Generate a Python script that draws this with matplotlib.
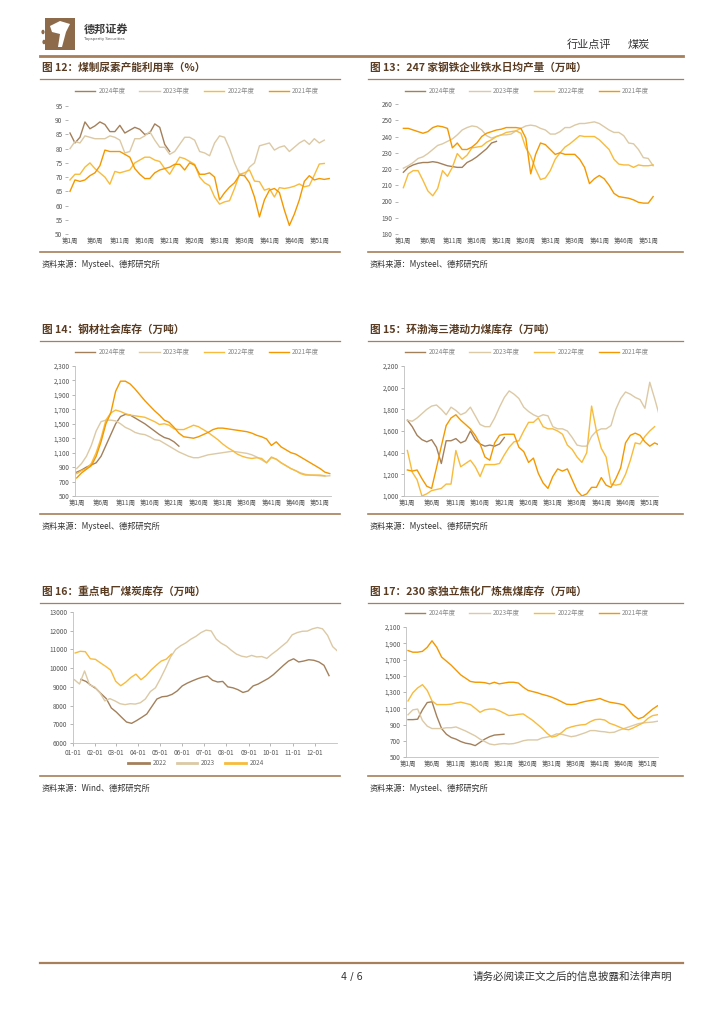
import numpy as np
import pandas as pd
import matplotlib
matplotlib.use('Agg')
import matplotlib.pyplot as plt
from matplotlib.patches import Rectangle, Circle, Polygon
from matplotlib.lines import Line2D

plt.rcParams['font.family'] = ['Noto Sans CJK SC', 'DejaVu Sans']

W, H = 724, 1024
def fx(x): return x / W
def fy(y): return 1 - y / H

# ---- data ----
years4 = ['2024年度', '2023年度', '2022年度', '2021年度']
week_ticks = [1, 6, 11, 16, 21, 26, 31, 36, 41, 46, 51]
week_labels = ['第%d周' % w for w in week_ticks]

# 图12 煤制尿素产能利用率
urea_2024 = [85.5, 82, 84, 89.4, 87, 88, 89.4, 88.5, 86, 86, 88.2, 85.5, 86.5, 87.5, 86.8, 85, 85.5, 88.7, 87.5, 81.5, 79]
urea_2023 = [80, 82.5, 82, 84.5, 84, 83.5, 83.5, 83.5, 84.5, 84, 83, 78.5, 79, 83.5, 83.5, 84.5, 86, 83, 80.5, 80.5,
             78, 79, 81.5, 84, 84, 83, 79, 78.5, 77.5, 82, 84.5, 84, 80, 75, 71, 70.5, 73.5, 75, 81, 81.5,
             82, 79.5, 80.5, 81, 79, 80.5, 82, 83, 81.5, 83.5, 82, 83]
urea_2022 = [69, 71, 71, 73.5, 75, 73, 71.5, 70, 67.5, 72, 71.5, 72, 72.5, 75, 76, 77, 77, 76, 75.5, 73,
             71, 74, 77, 76.5, 75.5, 74.5, 70, 68, 67, 63, 60.5, 61.3, 61.7, 66, 71, 71.5, 72.5, 68.6, 68.4, 65.4,
             66, 63, 66.3, 66, 66.3, 66.8, 67.6, 66.6, 67, 70.7, 74.6, 74.8]
urea_2021 = [65, 69, 68.5, 69, 70.5, 71.5, 74, 79.5, 79, 79, 79, 78, 77, 73, 71, 69.5, 69.5, 71.5, 72.5, 73,
             73.5, 74.5, 74.5, 72.5, 75, 74.2, 71, 71, 71.5, 70, 62, 64.5, 66.5, 68, 70.7, 70.5, 68, 63, 56, 62,
             65.4, 66, 64.6, 58.4, 53, 57, 62, 68.5, 70.5, 69, 69.5, 69.2, 69.5]

# 图13 247家钢铁企业铁水日均产量
iron_2024 = [218, 221, 222.5, 223.5, 224, 224, 224.5, 224, 223, 222, 221.5, 221, 221, 224, 225.5, 227.5, 230, 232.5, 236, 237]
iron_2023 = [220.5, 222, 224, 226.5, 227.5, 229.5, 232, 234.5, 235.5, 237, 238.5, 241, 244, 245.5, 246.5, 246, 244, 240.5, 239, 240,
             241, 241, 241.5, 243.5, 245, 246.5, 247, 246.5, 245, 244, 241.5, 241.5, 243, 245.5, 245.5, 247, 248, 248, 248.5, 249,
             248, 246, 244, 242.5, 242.5, 240.5, 236, 235.5, 232, 227, 226.5, 222]
iron_2022 = [208.5, 217, 219, 219, 213, 206.5, 203.5, 208, 219, 215.5, 221, 229.5, 226, 228.5, 233, 233.5, 234, 236.5, 238, 240,
             241, 242.5, 243, 243.5, 242, 233, 228, 220, 213.5, 214.5, 219, 226, 230, 233.5, 235.5, 238, 240.5, 240, 240, 240,
             238, 235, 232, 226, 223, 222.5, 222.5, 221, 222.5, 222, 222, 222.5]
iron_2021 = [245, 245, 244, 243, 242, 243, 245.5, 246.5, 246, 245, 233, 236, 232, 232, 233.5, 236, 240, 242, 243, 244,
             244.5, 245.5, 245.5, 245.5, 245, 239, 217, 229, 236, 235, 232, 229, 230, 229, 229, 229, 226, 221, 211, 214,
             216, 214, 210, 205, 203, 202.5, 202, 201, 199.5, 199, 199, 203]

# 图14 钢材社会库存
steel_2024 = [830, 860, 900, 930, 960, 1050, 1200, 1350, 1500, 1600, 1630, 1620, 1580, 1540, 1500, 1450, 1400, 1350, 1310, 1290, 1250, 1190]
steel_2023 = [880, 950, 1050, 1200, 1400, 1530, 1550, 1550, 1540, 1500, 1450, 1420, 1380, 1360, 1350, 1320, 1280, 1270, 1230, 1190,
              1150, 1110, 1080, 1050, 1030, 1030, 1050, 1070, 1080, 1090, 1100, 1110, 1120, 1110, 1100, 1090, 1070, 1040, 1000, 960,
              1030, 1010, 960, 920, 880, 850, 820, 800, 790, 785, 780, 775, 780]
steel_2022 = [810, 850, 880, 950, 1100, 1300, 1550, 1650, 1690, 1670, 1640, 1620, 1610, 1600, 1590, 1560, 1530, 1490, 1500, 1480,
              1430, 1420, 1420, 1450, 1480, 1460, 1420, 1380, 1330, 1280, 1220, 1170, 1130, 1080, 1050, 1030, 1020, 1030, 1020, 960,
              1040, 1010, 960, 920, 880, 850, 810, 790, 790, 790, 790, 780]
steel_2021 = [750, 820, 870, 920, 1050, 1250, 1500, 1650, 1950, 2090, 2090, 2050, 1980, 1900, 1820, 1750, 1680, 1620, 1550, 1520,
              1450, 1370, 1320, 1310, 1300, 1320, 1350, 1380, 1420, 1440, 1440, 1430, 1420, 1410, 1400, 1390, 1370, 1340, 1320, 1290,
              1200, 1250, 1180, 1140, 1100, 1080, 1040, 1000, 960, 920, 880, 830, 810]

# 图15 环渤海三港动力煤库存
port_2024 = [1700, 1640, 1560, 1520, 1500, 1520, 1450, 1300, 1510, 1510, 1530, 1490, 1510, 1600, 1520, 1480, 1460, 1470, 1460, 1480, 1540]
port_2023 = [1700, 1690, 1720, 1760, 1800, 1830, 1840, 1800, 1750, 1820, 1790, 1750, 1770, 1820, 1740, 1660, 1640, 1640, 1720, 1820,
             1910, 1970, 1940, 1900, 1820, 1780, 1750, 1730, 1750, 1740, 1640, 1620, 1620, 1600, 1540, 1470, 1460, 1460, 1550, 1600,
             1620, 1620, 1650, 1800, 1900, 1960, 1940, 1910, 1890, 1810, 2050, 1900, 1740]
port_2022 = [1420, 1220, 1150, 1000, 1020, 1050, 1060, 1070, 1110, 1110, 1420, 1270, 1300, 1330, 1270, 1180, 1290, 1290, 1290, 1300,
             1380, 1450, 1500, 1510, 1600, 1680, 1680, 1720, 1640, 1620, 1620, 1600, 1570, 1470, 1430, 1360, 1310, 1400, 1830, 1600,
             1440, 1360, 1110, 1100, 1110, 1200, 1330, 1490, 1480, 1550, 1600, 1640]
port_2021 = [1240, 1230, 1240, 1160, 1090, 1070, 1260, 1460, 1650, 1720, 1750, 1700, 1660, 1620, 1560, 1480, 1360, 1330, 1490, 1560,
             1570, 1570, 1570, 1450, 1410, 1310, 1350, 1210, 1120, 1070, 1180, 1250, 1230, 1250, 1150, 1050, 1000, 1020, 1080, 1080,
             1170, 1100, 1080, 1160, 1260, 1490, 1560, 1580, 1560, 1500, 1460, 1490, 1470]

# 图16 重点电厂煤炭库存 (weekly, from start date)
plant_years = ['2022', '2023', '2024']
plant_start = ['2022-01-12', '2023-01-03', '2024-01-04']
plant_2022 = [9400, 9290, 9080, 8900, 8630, 8370, 7870, 7650, 7380, 7120, 7050, 7200, 7370, 7550, 7950, 8350, 8470, 8500, 8600, 8780,
              9050, 9200, 9320, 9430, 9520, 9580, 9350, 9260, 9290, 9000, 8950, 8850, 8700, 8780, 9050, 9150, 9300, 9450, 9650, 9900,
              10150, 10380, 10500, 10330, 10380, 10450, 10420, 10330, 10150, 9600]
plant_2023 = [9380, 9150, 9850, 9100, 9000, 8700, 8250, 8370, 8250, 8100, 8050, 8100, 8080, 8150, 8350, 8750, 8950, 9450, 10000, 10600,
              11000, 11200, 11350, 11550, 11700, 11900, 12030, 11990, 11550, 11330, 11180, 10950, 10750, 10640, 10590, 10680, 10600, 10620, 10520, 10750,
              10950, 11180, 11400, 11780, 11900, 11970, 11980, 12100, 12170, 12100, 11750, 11150, 10900]
plant_2024 = [10810, 10900, 10880, 10500, 10470, 10280, 10100, 9900, 9300, 9060, 9250, 9500, 9680, 9380, 9600, 9900, 10150, 10380, 10480, 10750]

# 图17 230家独立焦化厂炼焦煤库存
coke_2024 = [960, 960, 965, 1080, 1170, 1180, 1000, 850, 780, 740, 720, 690, 670, 660, 640, 680, 720, 750, 770, 775, 780]
coke_2023 = [1020, 1080, 1090, 950, 880, 850, 850, 850, 860, 860, 870, 845, 820, 790, 760, 720, 690, 660, 650, 660,
             665, 660, 665, 680, 700, 710, 710, 710, 735, 745, 760, 785, 780, 765, 750, 760, 780, 800, 825, 825,
             815, 810, 800, 805, 830, 850, 870, 890, 910, 920, 925, 930, 940]
coke_2022 = [1190, 1290, 1350, 1390, 1320, 1190, 1145, 1145, 1145, 1150, 1165, 1175, 1160, 1145, 1100, 1050, 1080, 1090, 1090, 1070,
             1040, 1010, 1015, 1025, 1030, 990, 950, 900, 850, 790, 745, 760, 800, 850, 870, 885, 895, 900, 935, 960,
             965, 955, 915, 895, 870, 845, 835, 860, 890, 920, 975, 1010, 1020]
coke_2021 = [1810, 1790, 1790, 1800, 1850, 1930, 1850, 1730, 1680, 1630, 1570, 1510, 1470, 1430, 1420, 1420, 1415, 1400, 1420, 1400,
             1410, 1420, 1420, 1410, 1360, 1320, 1305, 1290, 1270, 1255, 1235, 1210, 1180, 1150, 1145, 1150, 1170, 1185, 1195, 1205,
             1220, 1195, 1175, 1165, 1155, 1140, 1080, 1010, 970, 990, 1040, 1090, 1130]

# ---- style ----
c2024 = '#a3805c'
c2023 = '#dcc9a5'
c2022 = '#f8bb3c'
c2021 = '#f39800'
brown = '#a77f5a'
title_c = '#5a3c22'
tick_c = '#555555'

fig = plt.figure(figsize=(7.24, 10.24), dpi=100)

def add_ax(l, t, r, b):
    return fig.add_axes([fx(l), fy(b), (r - l) / W, (b - t) / H])

def hline(y, x0, x1, lw, color=brown):
    fig.add_artist(Line2D([fx(x0), fx(x1)], [fy(y), fy(y)], lw=lw, color=color, transform=fig.transFigure))

def panel_frame(x0, x1, ytitle, title, yrule, source):
    fig.text(fx(x0 + 2), fy(ytitle), title, fontsize=7.7, fontweight='bold', color=title_c, va='center')
    hline(ytitle + 11, x0, x1, 0.9)
    hline(yrule, x0, x1, 1.2)
    fig.text(fx(x0 + 2), fy(yrule + 12), source, fontsize=5.9, color='#333333', va='center')

def style_ax(ax, spines=True):
    for s in ['top', 'right']:
        ax.spines[s].set_visible(False)
    for s in ['left', 'bottom']:
        ax.spines[s].set_visible(spines)
        ax.spines[s].set_color('#bfbfbf')
        ax.spines[s].set_linewidth(0.6)
    ax.tick_params(axis='both', labelsize=4.6, colors='#999999', labelcolor=tick_c, length=2, width=0.5, pad=2)
    ax.set_facecolor('none')

def weekly(ax, series, yticks, fmt, xlim):
    for vals, c, lab in zip(series, [c2024, c2023, c2022, c2021], years4):
        ax.plot(np.arange(1, len(vals) + 1), vals, color=c, lw=1.0, label=lab)
    ax.set_xlim(*xlim)
    ax.set_ylim(yticks[0], yticks[-1])
    ax.set_yticks(yticks)
    ax.set_yticklabels([fmt(v) for v in yticks])
    ax.set_xticks(week_ticks)
    ax.set_xticklabels(week_labels)
    ax.tick_params(axis='x', length=0)

def top_legend(ax, cx, cy):
    ax.legend(loc='center', bbox_to_anchor=(fx(cx), fy(cy)), bbox_transform=fig.transFigure, ncol=4,
              frameon=False, fontsize=4.6, handlelength=3.2, columnspacing=2.2, handletextpad=0.5, labelcolor='#888888')

comma = lambda v: '{:,}'.format(v)

# header
fig.add_artist(Rectangle((fx(45), fy(50)), 30 / W, 32 / H, transform=fig.transFigure, color='#8c6a4a', lw=0))
fig.add_artist(Polygon([[fx(50), fy(26)], [fx(60), fy(21)], [fx(70), fy(24)], [fx(66), fy(32)], [fx(62), fy(47)],
                        [fx(58), fy(47)], [fx(60), fy(34)], [fx(52), fy(32)]], closed=True,
                       transform=fig.transFigure, color='white', lw=0))
for (cx, cy) in [(43, 32), (47, 37), (44, 42)]:
    fig.add_artist(Circle((fx(cx), fy(cy)), 1.6 / W, transform=fig.transFigure, color='#8c6a4a', lw=0))
fig.text(fx(84), fy(29), '德邦证券', fontsize=8, fontweight='bold', color='#3c3c3c', va='center')
fig.text(fx(84), fy(39), 'Topsperity Securities', fontsize=2.8, color='#555555', va='center', family='DejaVu Sans')
fig.text(fx(567), fy(45), '行业点评', fontsize=8, color='#333333', va='center', ha='left')
fig.text(fx(628), fy(45), '煤炭', fontsize=8, color='#333333', va='center', ha='left')
hline(56, 40, 683, 2.0)

# footer
hline(963, 40, 683, 1.6)
fig.text(fx(352), fy(977), '4 / 6', fontsize=7, color='#333333', va='center', ha='center', family='DejaVu Sans')
fig.text(fx(672), fy(977), '请务必阅读正文之后的信息披露和法律声明', fontsize=7.6, color='#333333', va='center', ha='right')

# 图12
panel_frame(40, 340, 68, '图 12：煤制尿素产能利用率（%）', 252, '资料来源：Mysteel、德邦研究所')
ax = add_ax(68, 106, 330, 234)
style_ax(ax, spines=False)
weekly(ax, [urea_2024, urea_2023, urea_2022, urea_2021], list(range(50, 96, 5)), str, (0.6, 53.15))
top_legend(ax, 197, 91)

# 图13
panel_frame(368, 683, 68, '图 13：247 家钢铁企业铁水日均产量（万吨）', 252, '资料来源：Mysteel、德邦研究所')
ax = add_ax(398, 104, 660, 234)
style_ax(ax, spines=False)
weekly(ax, [iron_2024, iron_2023, iron_2022, iron_2021], list(range(180, 261, 10)), str, (-0.1, 53.4))
top_legend(ax, 527, 91)

# 图14
panel_frame(40, 340, 330, '图 14：钢材社会库存（万吨）', 514, '资料来源：Mysteel、德邦研究所')
ax = add_ax(75, 366, 331, 496)
style_ax(ax)
weekly(ax, [steel_2024, steel_2023, steel_2022, steel_2021], list(range(500, 2301, 200)), comma, (0.65, 53.25))
top_legend(ax, 197, 352)

# 图15
panel_frame(368, 683, 330, '图 15：环渤海三港动力煤库存（万吨）', 514, '资料来源：Mysteel、德邦研究所')
ax = add_ax(404, 366, 658, 496)
style_ax(ax)
weekly(ax, [port_2024, port_2023, port_2022, port_2021], list(range(1000, 2201, 200)), comma, (0.3, 52.7))
top_legend(ax, 527, 352)

# 图16
panel_frame(40, 340, 592, '图 16：重点电厂煤炭库存（万吨）', 776, '资料来源：Wind、德邦研究所')
ax = add_ax(73, 612, 337, 743)
style_ax(ax)
for vals, start, c, lab in zip([plant_2022, plant_2023, plant_2024], plant_start, [c2024, c2023, c2022], plant_years):
    dates = pd.date_range(start, periods=len(vals), freq='7D')
    days = (dates - pd.Timestamp(dates[0].year, 1, 1)).days
    ax.plot(days, vals, color=c, lw=1.0, label=lab)
months = pd.date_range('2023-01-01', periods=12, freq='MS')
ax.set_xticks(months.dayofyear - 1)
ax.set_xticklabels(months.strftime('%m-%d'))
ax.set_xlim(0, 365)
ax.set_ylim(6000, 13000)
ax.set_yticks(range(6000, 13001, 1000))
ax.legend(loc='center', bbox_to_anchor=(fx(196), fy(763)), bbox_transform=fig.transFigure, ncol=3,
          frameon=False, fontsize=4.6, handlelength=3.2, columnspacing=1.6, handletextpad=0.6, labelcolor='#666666')
for lh in ax.get_legend().get_lines():
    lh.set_linewidth(2.0)

# 图17
panel_frame(368, 683, 592, '图 17：230 家独立焦化厂炼焦煤库存（万吨）', 776, '资料来源：Mysteel、德邦研究所')
ax = add_ax(406, 627, 658, 757)
style_ax(ax)
weekly(ax, [coke_2024, coke_2023, coke_2022, coke_2021], list(range(500, 2101, 200)), comma, (0.58, 53.1))
top_legend(ax, 527, 613)

plt.savefig('out.png', dpi=100)
